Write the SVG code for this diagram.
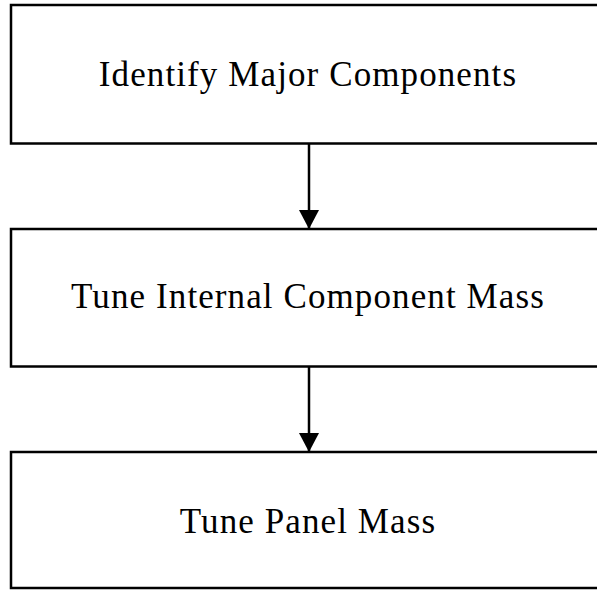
<svg xmlns="http://www.w3.org/2000/svg" width="597" height="590" viewBox="0 0 597 590">
<style>
.box{fill:#fff;stroke:#000;stroke-width:2.5}
.lbl{font-family:"Liberation Serif","Times New Roman",serif;font-size:35px;letter-spacing:1.1px;fill:#000;text-anchor:middle}
.conn{stroke:#000;stroke-width:2.5;fill:none}
</style>
<defs>
<marker id="ah" markerUnits="userSpaceOnUse" markerWidth="20" markerHeight="20" refX="19" refY="10" orient="auto">
<path d="M0,0 L19,10 L0,20 Z" fill="#000"/>
</marker>
</defs>
<rect x="0" y="0" width="597" height="590" fill="#fff"/>
<g id="node1"><rect class="box" x="11" y="5" width="600" height="138.5"/><text class="lbl" x="308" y="86">Identify Major Components</text></g>
<g id="node2"><rect class="box" x="11" y="229" width="600" height="137.5"/><text class="lbl" x="308" y="308">Tune Internal Component Mass</text></g>
<g id="node3"><rect class="box" x="11" y="452" width="600" height="136"/><text class="lbl" x="308" y="533">Tune Panel Mass</text></g>
<g id="connectors">
<line class="conn" x1="309" y1="143.5" x2="309" y2="229" marker-end="url(#ah)"/>
<line class="conn" x1="309" y1="366.5" x2="309" y2="452" marker-end="url(#ah)"/>
</g>
</svg>
